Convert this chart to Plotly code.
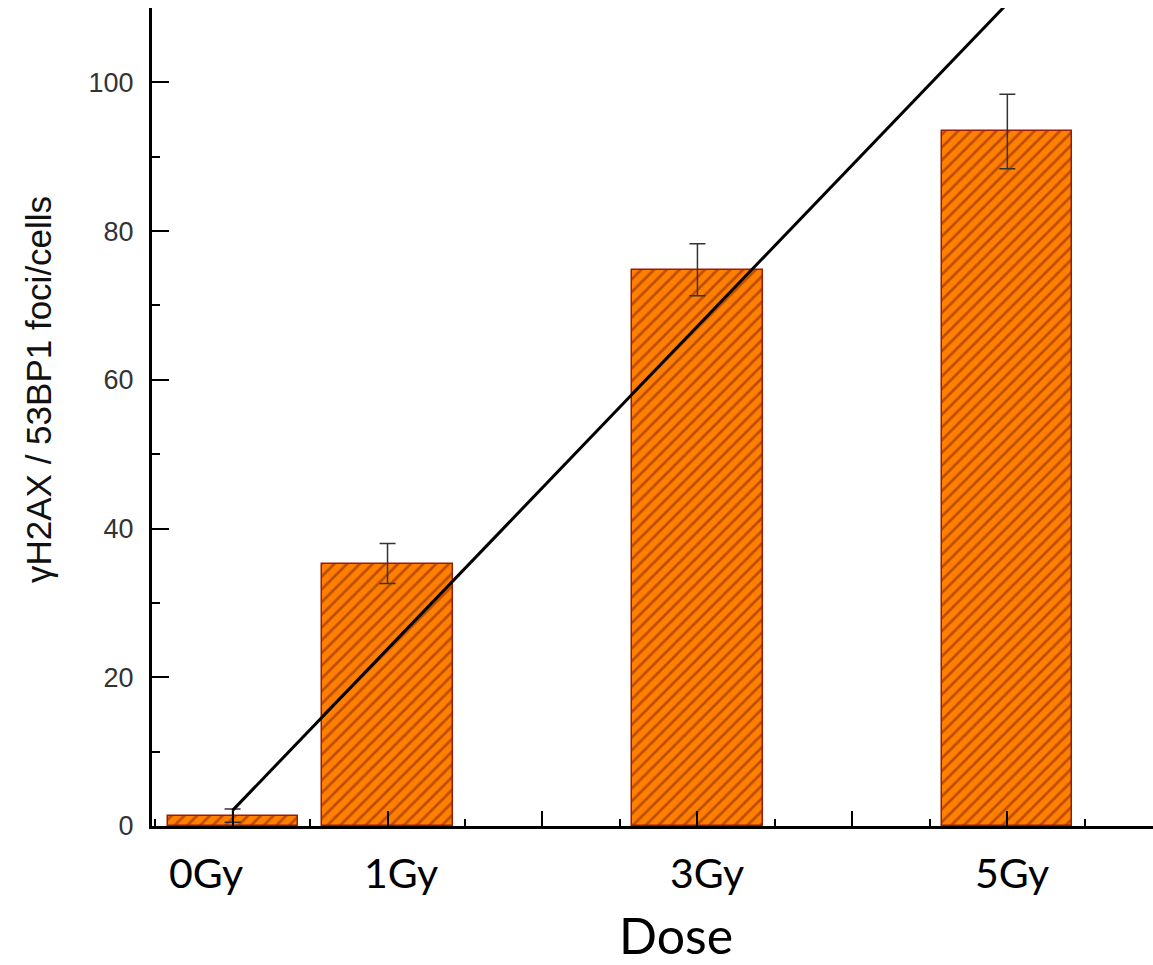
import plotly.graph_objects as go

# ---- data ----
dose_labels = ["0Gy", "1Gy", "3Gy", "5Gy"]
dose_values = [0, 1, 3, 5]
foci_mean = [1.4, 35.3, 74.8, 93.4]
foci_err = [0.9, 2.7, 3.5, 5.0]
fit_intercept = 2.1
fit_slope = 21.7
fit_x = [0, 5.5]
fit_y = [fit_intercept + fit_slope * v for v in fit_x]

label_shift = [-27, 13, 10, 5]  # px offsets of hand-placed labels

fig = go.Figure()
fig.add_trace(go.Bar(
    x=dose_values, y=foci_mean, width=0.84,
    marker=dict(color="#FF8000",
                line=dict(color="#9B1B0A", width=1.5),
                pattern=dict(shape="/", fgcolor="#7A1800", bgcolor="#FF8000",
                             size=9, solidity=0.3, fillmode="overlay")),
    error_y=dict(type="data", array=foci_err, color="#333333",
                 thickness=1.5, width=8),
    showlegend=False,
))
fig.add_trace(go.Scatter(
    x=fit_x, y=fit_y, mode="lines",
    line=dict(color="black", width=3), showlegend=False,
))

annotations = []
for lab, v, sh in zip(dose_labels, dose_values, label_shift):
    annotations.append(dict(
        text=lab, x=v, xref="x", y=-(873 - 826) / 818, yref="paper",
        xshift=sh, showarrow=False, xanchor="center", yanchor="middle",
        font=dict(family="Lato, Carlito, sans-serif", size=41, color="black"),
    ))
annotations.append(dict(
    text="Dose", x=(676 - 152) / 1001, xref="paper",
    y=-(935 - 826) / 818, yref="paper", showarrow=False,
    xanchor="center", yanchor="middle",
    font=dict(family="Lato, Carlito, sans-serif", size=50, color="black"),
))
annotations.append(dict(
    text="γH2AX / 53BP1 foci/cells", x=(38 - 152) / 1001, xref="paper",
    y=(826 - 390) / 818, yref="paper", showarrow=False, textangle=-90,
    xanchor="center", yanchor="middle",
    font=dict(family="Liberation Sans, Arial, sans-serif",
              size=35, color="#111111"),
))

fig.update_layout(
    width=1153, height=965,
    margin=dict(l=152, r=0, t=8, b=139),
    paper_bgcolor="white", plot_bgcolor="white",
    bargap=0, annotations=annotations,
    xaxis=dict(range=[-0.52, 5.94], showgrid=False, zeroline=False,
               showline=True, linecolor="black", linewidth=3,
               tickmode="array", tickvals=[0, 1, 2, 3, 4, 5],
               ticks="inside", ticklen=15, tickwidth=2, tickcolor="black",
               showticklabels=False,
               minor=dict(dtick=0.5, tick0=0, ticks="inside", ticklen=7,
                          tickwidth=2, tickcolor="black", showgrid=False)),
    yaxis=dict(range=[0, 110], showgrid=False, zeroline=False,
               showline=True, linecolor="black", linewidth=3,
               tick0=0, dtick=20, ticks="inside", ticklen=17, tickwidth=2,
               tickcolor="black", ticklabelstandoff=10,
               tickfont=dict(family="Liberation Sans, Arial, sans-serif",
                             size=27, color="#333333"),
               minor=dict(dtick=10, tick0=0, ticks="inside", ticklen=8,
                          tickwidth=2, tickcolor="black", showgrid=False)),
)

fig.write_html("out.html",
               config={"displayModeBar": False},
               post_script="document.body.style.margin='0px';"
                           "document.body.style.overflow='hidden';")
